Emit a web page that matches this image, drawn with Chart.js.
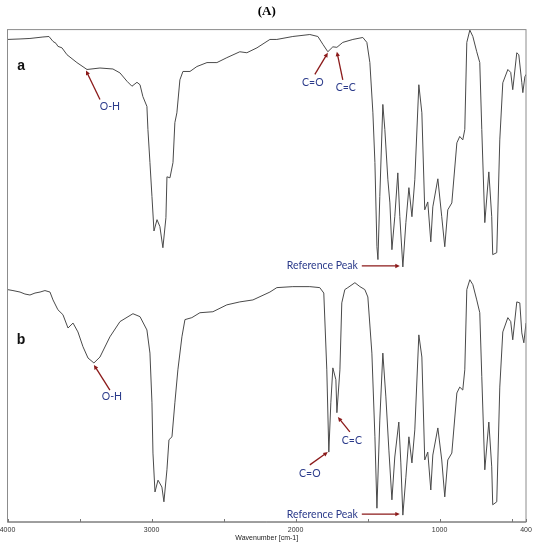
<!DOCTYPE html>
<html><head><meta charset="utf-8">
<script src="https://cdn.jsdelivr.net/npm/chart.js@4.4.0/dist/chart.umd.min.js"></script>
<style>html,body{margin:0;padding:0;background:#fff}#wrap{width:536px;height:550px;position:relative}</style>
</head><body><div id="wrap"><canvas id="c"></canvas></div>
<script>
// Spectrum a (upper trace) — wavenumber (cm-1) and relative transmittance (stacked, arbitrary units)
const wavenumbersA = [4000,3913,3844,3754,3712,3684,3663,3650,3622,3587,3518,3448,3358,3268,3219,3170,3136,3101,3080,3060,3032,3025,3011,2997,2983,2962,2942,2921,2900,2893,2872,2851,2838,2824,2803,2782,2733,2685,2615,2546,2477,2387,2338,2268,2178,2130,2019,1901,1845,1810,1776,1741,1713,1672,1602,1533,1505,1484,1463,1449,1435,1428,1415,1394,1380,1359,1345,1331,1311,1290,1276,1255,1234,1213,1192,1172,1144,1123,1103,1082,1061,1047,1012,985,964,943,915,880,860,839,825,811,790,769,742,721,707,686,658,638,631,603,582,561,526,506,492,464,450,429,422,408,400];
const transmittanceA = [98.0,98.1,98.2,98.5,98.6,97.6,97.2,96.6,96.3,94.9,93.3,91.9,92.2,92.0,91.2,89.5,88.5,89.3,88.8,86.4,84.4,79.7,73.0,66.1,59.1,61.4,60.0,55.7,61.8,70.1,69.9,73.0,81.1,83.1,89.8,91.5,91.5,92.5,93.3,93.3,94.3,95.5,95.3,96.3,98.0,98.0,98.6,99.0,98.6,97.0,95.5,96.5,96.4,97.4,98.0,98.4,97.4,93.3,83.1,73.0,55.9,53.3,66.1,84.8,79.7,69.5,64.8,55.3,62.0,70.9,62.0,51.8,60.8,67.9,62.0,69.5,88.8,83.1,63.4,65.0,56.9,64.0,69.7,62.0,55.9,63.4,64.8,77.0,78.3,77.6,79.7,97.4,99.9,98.6,95.5,93.3,79.7,60.8,71.1,62.0,54.3,54.7,77.6,89.2,91.9,91.3,87.8,95.3,94.9,89.2,87.2,90.4,90.9];

// Spectrum b (lower trace)
const wavenumbersB = [4000,3962,3913,3879,3844,3809,3774,3740,3705,3684,3650,3615,3580,3545,3511,3476,3441,3400,3358,3289,3219,3129,3080,3032,3011,2997,2990,2976,2955,2928,2914,2893,2879,2858,2838,2817,2789,2768,2720,2664,2574,2477,2387,2296,2178,2130,2019,1901,1832,1804,1783,1769,1755,1741,1720,1713,1692,1679,1658,1637,1588,1553,1519,1498,1470,1449,1435,1415,1394,1373,1352,1331,1311,1283,1269,1255,1234,1213,1192,1172,1144,1123,1103,1082,1061,1047,1012,985,964,943,915,880,860,839,825,811,790,769,742,721,707,686,658,638,631,603,582,561,526,506,492,464,443,429,415,400];
const transmittanceB = [47.2,47.0,46.7,46.3,46.1,46.5,46.7,47.0,46.7,45.1,43.1,42.1,39.4,40.4,38.6,35.6,33.3,32.3,33.5,37.6,40.7,42.3,41.7,39.0,34.3,24.2,14.0,6.1,8.5,7.1,4.1,10.6,16.7,17.3,24.2,30.9,37.6,41.1,41.5,42.5,42.7,44.1,44.7,45.1,46.7,47.6,47.8,47.8,47.6,46.5,30.9,14.2,24.2,31.3,28.9,22.2,30.9,44.5,47.2,47.6,48.6,47.8,47.2,45.7,34.3,17.3,2.8,20.7,34.3,25.4,14.6,4.5,13.2,20.3,12.0,1.4,9.1,17.3,12.0,18.7,38.0,33.5,12.6,14.2,6.5,13.6,19.1,12.6,5.1,12.6,14.0,26.2,27.4,26.8,30.9,47.2,49.2,48.2,45.1,42.5,29.5,10.6,20.3,11.2,3.5,4.1,27.4,38.6,41.5,40.7,37.0,44.7,44.5,38.4,36.4,40.4];

// Axis ticks
const tickValues = [400,500,1000,1500,2000,2500,3000,3500,4000];
const labeledTicks = [4000,3000,2000,1000,400];

// Annotations in data coordinates (wavenumber, transmittance)
const textLabels = [
  {text:'a', x:3906, y:92.5, bold:true},
  {text:'b', x:3906, y:37.0, bold:true},
  {text:'O-H', x:3289, y:84.3},
  {text:'C=O', x:1880, y:89.2},
  {text:'C=C', x:1651, y:88.2},
  {text:'O-H', x:3275, y:25.4},
  {text:'C=O', x:1901, y:9.8},
  {text:'C=C', x:1609, y:16.5},
  {text:'Reference Peak', x:1568, y:52.0, align:'right'},
  {text:'Reference Peak', x:1568, y:1.6, align:'right'}
];
const arrows = [
  {x1:3358, y1:85.8, x2:3455, y2:91.7},
  {x1:1866, y1:90.9, x2:1776, y2:95.3},
  {x1:1672, y1:89.8, x2:1713, y2:95.5},
  {x1:1540, y1:52.0, x2:1276, y2:52.0},
  {x1:3289, y1:26.8, x2:3400, y2:31.9},
  {x1:1901, y1:11.6, x2:1776, y2:14.2},
  {x1:1623, y1:18.3, x2:1706, y2:21.3},
  {x1:1540, y1:1.6, x2:1276, y2:1.6}
];

const toXY = (xs, ys) => xs.map((v, i) => ({x: v, y: ys[i]}));

const decor = {
  id: 'decor',
  afterDatasetsDraw(chart) {
    const {ctx, chartArea: a, scales: {x, y}} = chart;
    ctx.save();
    ctx.strokeStyle = '#8c8c8c'; ctx.lineWidth = 1;
    ctx.strokeRect(a.left, a.top, a.width, a.height);
    ctx.strokeStyle = '#777';
    ctx.beginPath(); ctx.moveTo(a.left, a.bottom); ctx.lineTo(a.right, a.bottom); ctx.stroke();
    tickValues.forEach(v => {
      const px = Math.round(x.getPixelForValue(v)) + 0.5;
      ctx.beginPath(); ctx.moveTo(px, a.bottom); ctx.lineTo(px, a.bottom - 3); ctx.stroke();
    });
    // arrows
    ctx.strokeStyle = '#8b1a1a'; ctx.fillStyle = '#8b1a1a'; ctx.lineWidth = 1.3;
    arrows.forEach(ar => {
      const x1 = x.getPixelForValue(ar.x1), y1 = y.getPixelForValue(ar.y1);
      const x2 = x.getPixelForValue(ar.x2), y2 = y.getPixelForValue(ar.y2);
      const ang = Math.atan2(y2 - y1, x2 - x1), h = 5;
      ctx.beginPath(); ctx.moveTo(x1, y1);
      ctx.lineTo(x2 - Math.cos(ang) * 3, y2 - Math.sin(ang) * 3); ctx.stroke();
      ctx.beginPath(); ctx.moveTo(x2, y2);
      ctx.lineTo(x2 - h * Math.cos(ang - 0.45), y2 - h * Math.sin(ang - 0.45));
      ctx.lineTo(x2 - h * Math.cos(ang + 0.45), y2 - h * Math.sin(ang + 0.45));
      ctx.closePath(); ctx.fill();
    });
    // text
    textLabels.forEach(t => {
      const px = x.getPixelForValue(t.x), py = y.getPixelForValue(t.y);
      if (t.bold) { ctx.font = 'bold 14px "Liberation Sans", Arial, sans-serif'; ctx.fillStyle = '#111'; }
      else { ctx.font = '10.5px Lato, "Open Sans", sans-serif'; ctx.fillStyle = '#2a3a8a'; }
      ctx.textAlign = t.align || 'center'; ctx.textBaseline = 'middle';
      ctx.fillText(t.text, px, py);
    });
    ctx.restore();
  }
};

new Chart(document.getElementById('c'), {
  type: 'line',
  data: {
    datasets: [
      {label: 'a', data: toXY(wavenumbersA, transmittanceA), borderColor: '#4a4a4a', borderWidth: 1, pointRadius: 0, tension: 0, fill: false},
      {label: 'b', data: toXY(wavenumbersB, transmittanceB), borderColor: '#4a4a4a', borderWidth: 1, pointRadius: 0, tension: 0, fill: false}
    ]
  },
  options: {
    responsive: true, maintainAspectRatio: false, animation: false, devicePixelRatio: 1,
    layout: {padding: {left: 7.5, right: 10, top: 0, bottom: 0}},
    plugins: {
      legend: {display: false}, tooltip: {enabled: false},
      title: {display: true, text: '(A)', color: '#000', font: {family: '"Liberation Serif", "Times New Roman", serif', size: 13, weight: 'bold'}, padding: {top: 4, bottom: 10}}
    },
    scales: {
      x: {
        type: 'linear', reverse: true, min: 400, max: 4000,
        afterBuildTicks: s => { s.ticks = tickValues.map(v => ({value: v})); },
        afterFit: s => { s.height = 28; },
        ticks: {autoSkip: false, maxRotation: 0, padding: 4, color: '#333', font: {family: '"Liberation Sans", Arial, sans-serif', size: 7},
          callback: v => labeledTicks.includes(v) ? String(v) : ''},
        grid: {display: false, drawTicks: false}, border: {display: false},
        title: {display: true, text: 'Wavenumber [cm-1]', color: '#222', font: {family: '"Liberation Sans", Arial, sans-serif', size: 7}, padding: {top: 0, bottom: 8}}
      },
      y: {display: false, min: 0, max: 100}
    }
  },
  plugins: [decor]
});
</script></body></html>
